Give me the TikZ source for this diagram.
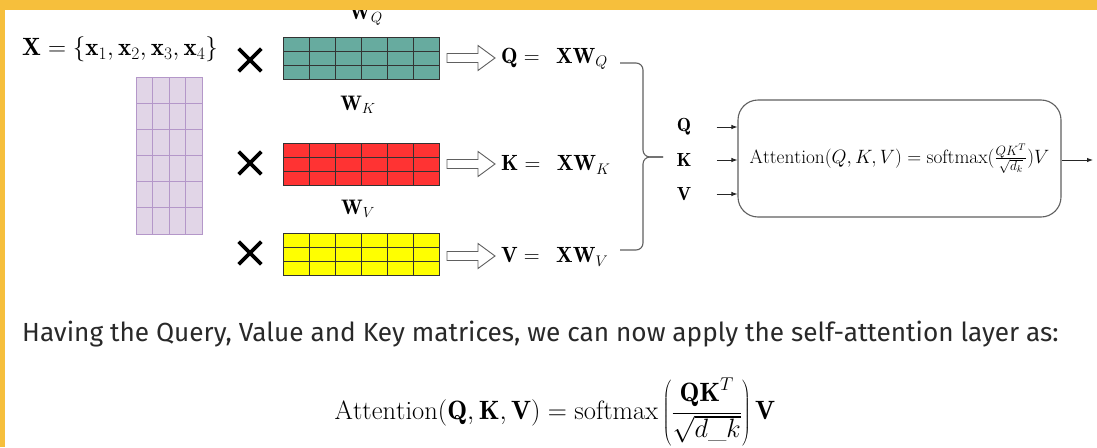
\RequirePackage{fix-cm}
\documentclass[tikz,border=0pt]{standalone}
\usepackage{fontspec}
\usetikzlibrary{calc,shapes.misc,arrows.meta}
\newfontfamily\bodysans{Fira Sans}

\definecolor{frameYellow}{HTML}{F6BF3C}
\definecolor{tealFill}{HTML}{67AB9F}
\definecolor{redFill}{HTML}{FF3333}
\definecolor{yelFill}{HTML}{FFFF00}
\definecolor{lilacFill}{HTML}{E1D5E7}
\definecolor{lilacLine}{HTML}{B497C9}
\definecolor{cellLine}{HTML}{333333}
\definecolor{wireGray}{HTML}{606060}
\definecolor{bodyText}{HTML}{292929}

% inner lines of a block of cells: node, columns, rows, line style
\newcommand\cellgrid[4]{%
  \pgfmathtruncatemacro\gcols{#2-1}%
  \pgfmathtruncatemacro\grows{#3-1}%
  \foreach \i in {1,...,\gcols}
    \draw[#4] ($(#1.north west)!\i/#2!(#1.north east)$) -- ($(#1.south west)!\i/#2!(#1.south east)$);
  \foreach \j in {1,...,\grows}
    \draw[#4] ($(#1.north west)!\j/#3!(#1.south west)$) -- ($(#1.north east)!\j/#3!(#1.south east)$);
}

% open block arrow starting at a coordinate
\newcommand\blockarrow[1]{%
  \draw[hollowarrow] ($(#1)+(0,-4.5)$) -- ++(31,0) -- ++(0,-8) -- ++(17,12.5)
    -- ++(-17,12.5) -- ++(0,-8) -- ++(-31,0) -- cycle;
}

\tikzset{
  weights/.style={draw=cellLine, line width=1pt, fill=#1, inner sep=0pt, outer sep=0pt,
    minimum width=156pt, minimum height=42pt, anchor=north west},
  weightlines/.style={draw=cellLine, line width=0.9pt},
  inputlines/.style={draw=lilacLine, line width=1pt},
  timesmark/.style={cross out, draw=black, line width=3.6pt, minimum size=19pt, inner sep=0pt},
  hollowarrow/.style={draw=wireGray, line width=0.9pt, fill=white, line join=miter},
  wlabel/.style={anchor=base, font=\fontsize{21}{24}\selectfont},
  eqlabel/.style={anchor=west, inner sep=1pt, font=\fontsize{22}{25}\selectfont},
  qkv/.style={font=\fontsize{19}{22}\selectfont},
  thin arrow/.style={draw=black!85, line width=0.9pt, -{Latex[length=6pt,width=4.5pt]}},
  attbox/.style={draw=wireGray, line width=1.1pt, rounded corners=20pt,
    minimum width=323pt, minimum height=117pt, inner sep=0pt},
  brace/.style={draw=wireGray, line width=1.1pt},
}

\begin{document}
\begin{tikzpicture}[x=1pt,y=-1pt]
\useasboundingbox (0,0) rectangle (1097,447);
\fill[white] (0,0) rectangle (1097,447);

% input sequence
\node[anchor=west, inner sep=0pt, font=\fontsize{25}{28}\selectfont] (xset) at (22,49)
  {$\mathbf{X}=\{\mathbf{x}_1,\mathbf{x}_2,\mathbf{x}_3,\mathbf{x}_4\}$};
\node[draw=lilacLine, fill=lilacFill, line width=1pt, inner sep=0pt, outer sep=0pt,
  minimum width=66pt, minimum height=157pt, anchor=north west] (xmat) at (136,77) {};
\cellgrid{xmat}{4}{6}{inputlines}

% weight matrices
\node[weights=tealFill] (wq) at (283,37) {};
\cellgrid{wq}{6}{3}{weightlines}
\node[weights=redFill] (wk) at (283,143) {};
\cellgrid{wk}{6}{3}{weightlines}
\node[weights=yelFill] (wv) at (283,233) {};
\cellgrid{wv}{6}{3}{weightlines}

\node[wlabel] (lq) at (366,19) {$\mathbf{W}_Q$};
\node[wlabel] (lk) at (358,110) {$\mathbf{W}_K$};
\node[wlabel] (lv) at (358,214) {$\mathbf{W}_V$};

% multiplication marks
\node[timesmark] (m1) at (250,60) {};
\node[timesmark] (m2) at (250,163) {};
\node[timesmark] (m3) at (250,253) {};

% projections
\coordinate (aq) at ($(wq.east)+(8,0)$);
\coordinate (ak) at ($(wk.east)+(8,0)$);
\coordinate (av) at ($(wv.east)+(8,2)$);
\blockarrow{aq}
\blockarrow{ak}
\blockarrow{av}

\node[eqlabel] (qeq) at (500,59) {$\mathbf{Q}=\ \,\mathbf{X}\mathbf{W}_Q$};
\node[eqlabel] (keq) at (500,165) {$\mathbf{K}=\ \,\mathbf{X}\mathbf{W}_K$};
\node[eqlabel] (veq) at (500,257) {$\mathbf{V}=\ \,\mathbf{X}\mathbf{W}_V$};

% grouping brace
\coordinate (btop) at (620,63);
\coordinate (btip) at (663,157);
\coordinate (bbot) at (620,250);
\draw[brace] (btop) -- (636,63) to[out=0,in=90] (643,70) -- (643,150)
  to[out=-90,in=180] (650,157) -- (btip);
\draw[brace] (btip) -- (650,157) to[out=180,in=90] (643,164) -- (643,243)
  to[out=-90,in=0] (636,250) -- (bbot);

% attention block
\node[qkv] (ql) at (684,127) {$\mathbf{Q}$};
\node[qkv] (kl) at (684,160) {$\mathbf{K}$};
\node[qkv] (vl) at (684,194) {$\mathbf{V}$};
\node[attbox] (att) at (899.5,158.5)
  {\fontsize{19.3}{22}\selectfont $\mathrm{Attention}(Q,K,V)=\mathrm{softmax}(\frac{QK^T}{\sqrt{d_k}})V$};
\draw[thin arrow] ([xshift=22pt]ql.east) -- (att.west |- ql);
\draw[thin arrow] ([xshift=22pt]kl.east) -- (att.west |- kl);
\draw[thin arrow] ([xshift=22pt]vl.east) -- (att.west |- vl);
\coordinate (attout) at (1093,160);
\draw[thin arrow] (att.east |- attout) -- (attout);

% explanation and formula
\node[anchor=base west, inner sep=0pt, text=bodyText] (sentence) at (22,341)
  {\bodysans\fontsize{26.2}{30}\selectfont Having the Query, Value and Key matrices, we can now apply the self-attention layer as:};
\node (formula) at (555,412) {\fontsize{26.5}{30}\selectfont
  $\displaystyle \mathrm{Attention}(\mathbf{Q},\mathbf{K},\mathbf{V})=\mathrm{softmax}\left(\frac{\mathbf{QK}^T}{\sqrt{d\_k}}\right)\mathbf{V}$};

% frame
\fill[frameYellow] (0,0) rectangle (1097,9.5);
\fill[frameYellow] (0,0) rectangle (5,447);
\end{tikzpicture}
\end{document}
